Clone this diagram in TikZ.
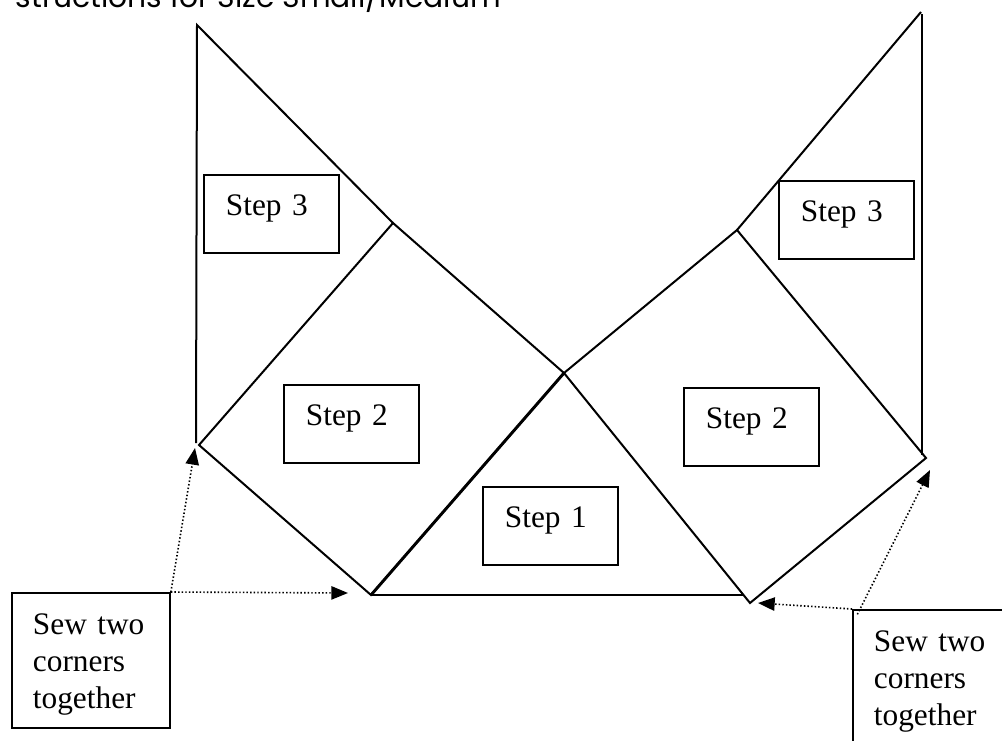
\documentclass[tikz,border=0pt]{standalone}
\usepackage{fontspec}
\setmainfont{Liberation Serif}
\newfontfamily\headfont{Poppins}
\usetikzlibrary{arrows.meta}

\tikzset{
  stepbox/.style={draw, line width=1.4pt, anchor=north west, inner xsep=16.5pt, inner ysep=0pt,
    text width=68.25pt, align=left, text height=30.75pt, text depth=27.75pt,
    font=\fontsize{23.5}{28}\selectfont},
  sewbox/.style={draw, line width=1.4pt, anchor=north west, inner xsep=15.75pt, inner ysep=0pt,
    text width=87pt, minimum height=101.25pt, align=left,
    font=\fontsize{23.5}{27.75}\selectfont},
  piece/.style={line width=1.5pt, line join=miter},
  sew/.style={line width=1.2pt, dash pattern=on 1.1pt off 1.6pt, -{Triangle[length=12.5pt,width=10pt]}}
}

\begin{document}
\begin{tikzpicture}[x=0.75pt, y=-0.75pt]
  \useasboundingbox (0,0) rectangle (1002,740);
  % heading, cut off by the page edge
  \node[anchor=base east, inner sep=0pt, font=\headfont\fontsize{22.3}{26}\selectfont] (title) at (501,7) {structions for Size Small/Medium};

  % corners of the pieces
  \coordinate (ltop) at (197,25);
  \coordinate (lfoot) at (196,443);
  \coordinate (lsqT) at (393,223);
  \coordinate (lsqL) at (199,445);
  \coordinate (apex) at (564,373);
  \coordinate (lsqB) at (371,595);
  \coordinate (baseR) at (743.5,595);
  \coordinate (rsqT) at (737,230);
  \coordinate (rsqR) at (926,458);
  \coordinate (rsqB) at (750,603);
  \coordinate (rtop) at (921,12);
  \coordinate (rvtop) at (922,14);
  \coordinate (rfoot) at (922,455);

  % left piece
  \draw[piece] (lfoot) -- (ltop) -- (lsqT);
  \draw[piece] (lsqT) -- (apex) -- (lsqB) -- (lsqL) -- cycle;
  % right piece
  \draw[piece] (rvtop) -- (rfoot);
  \draw[piece] (rtop) -- (rsqT);
  \draw[piece] (apex) -- (rsqT) -- (rsqR) -- (rsqB) -- cycle;
  % middle triangle
  \draw[piece, line width=2.2pt] (apex) -- (lsqB);
  \draw[piece] (lsqB) -- (baseR);

  % step labels
  \node[stepbox] (s3l) at (203,174) {Step 3};
  \node[stepbox] (s3r) at (778,180) {Step 3};
  \node[stepbox] (s2l) at (283,384) {Step 2};
  \node[stepbox] (s2r) at (683,387) {Step 2};
  \node[stepbox] (s1)  at (482,486) {Step 1};

  % sewing notes
  \node[sewbox] (sewL) at (11,592) {\rule{0pt}{22pt}Sew two\\corners\\together};
  \node[sewbox] (sewR) at (852,609) {\rule{0pt}{22pt}Sew two\\corners\\together};

  \coordinate (tipLa) at (195,448);
  \coordinate (tipLb) at (348,593);
  \coordinate (tipRa) at (930,470);
  \coordinate (tipRb) at (758,603);
  \draw[sew] (sewL.north east) -- (tipLa);
  \draw[sew] (sewL.north east) -- (tipLb);
  \draw[sew] ([xshift=4pt,yshift=-4pt]sewR.north west) -- (tipRa);
  \draw[sew] (sewR.north west) -- (tipRb);
\end{tikzpicture}
\end{document}
